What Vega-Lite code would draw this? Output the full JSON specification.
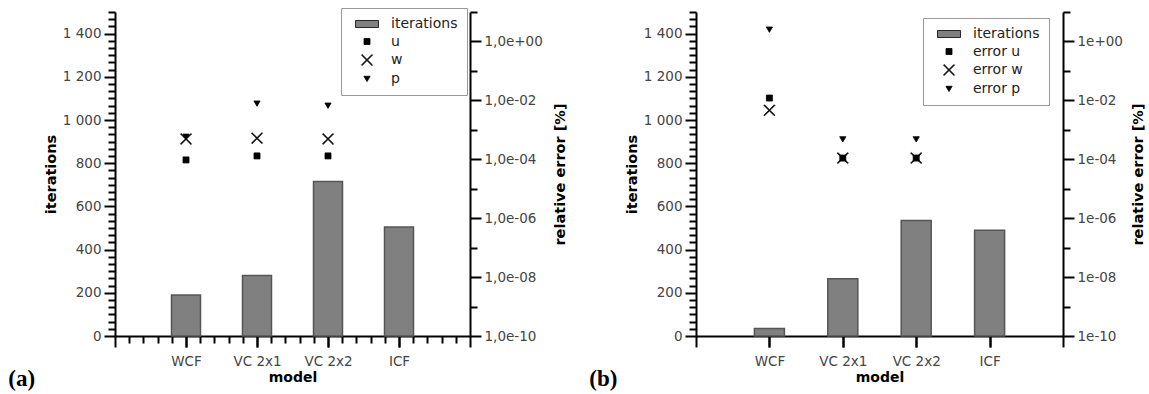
{
  "$schema": "https://vega.github.io/schema/vega-lite/v6.json",
  "background": "white",
  "padding": {"left": 8, "top": 5, "right": 0, "bottom": 0},
  "spacing": 22,
  "resolve": {"scale": {"color": "independent", "shape": "independent"}, "legend": {"color": "independent", "shape": "independent"}},
  "datasets": {
    "barsA": [
      {"model": "WCF", "iterations": 190},
      {"model": "VC 2x1", "iterations": 280},
      {"model": "VC 2x2", "iterations": 715},
      {"model": "ICF", "iterations": 505}
    ],
    "errA": [
      {"model": "WCF", "series": "u", "error": 0.000095},
      {"model": "WCF", "series": "w", "error": 0.00049},
      {"model": "WCF", "series": "p", "error": 0.0006},
      {"model": "VC 2x1", "series": "u", "error": 0.00013},
      {"model": "VC 2x1", "series": "w", "error": 0.00052},
      {"model": "VC 2x1", "series": "p", "error": 0.008},
      {"model": "VC 2x2", "series": "u", "error": 0.00013},
      {"model": "VC 2x2", "series": "w", "error": 0.00049},
      {"model": "VC 2x2", "series": "p", "error": 0.0068}
    ],
    "barsB": [
      {"model": "WCF", "iterations": 35},
      {"model": "VC 2x1", "iterations": 265},
      {"model": "VC 2x2", "iterations": 535},
      {"model": "ICF", "iterations": 490}
    ],
    "errB": [
      {"model": "WCF", "series": "error u", "error": 0.012},
      {"model": "WCF", "series": "error w", "error": 0.0046},
      {"model": "WCF", "series": "error p", "error": 2.6},
      {"model": "VC 2x1", "series": "error u", "error": 0.00011},
      {"model": "VC 2x1", "series": "error w", "error": 0.00011},
      {"model": "VC 2x1", "series": "error p", "error": 0.00049},
      {"model": "VC 2x2", "series": "error u", "error": 0.00011},
      {"model": "VC 2x2", "series": "error w", "error": 0.00011},
      {"model": "VC 2x2", "series": "error p", "error": 0.00049}
    ]
  },
  "config": {
    "view": {"stroke": null},
    "font": "DejaVu Sans",
    "axis": {"grid": false, "domainColor": "black", "domainWidth": 2, "tickColor": "black", "tickWidth": 2, "labelColor": "#444444", "labelFontSize": 13.5, "labelFont": "DejaVu Sans", "titleFont": "DejaVu Sans", "titleFontSize": 14.5, "titleFontWeight": "bold", "titleColor": "black", "labelOverlap": false},
    "legend": {"labelFont": "DejaVu Sans"}
  },
  "hconcat": [
    {
      "width": 355,
      "height": 324,
      "title": {"text": "(a)", "orient": "bottom", "anchor": "start", "frame": "bounds", "font": "Liberation Serif", "fontSize": 23, "fontWeight": "bold", "color": "black", "dx": -35, "offset": -17},
      "resolve": {"scale": {"x": "independent", "y": "independent"}, "axis": {"x": "independent", "y": "independent"}},
      "layer": [
        {
          "data": {"name": "barsA"},
          "mark": {"type": "bar", "size": 29, "fill": "#808080", "stroke": "#555555", "strokeWidth": 1.5},
          "encoding": {
            "x": {"field": "model", "type": "nominal", "sort": null, "scale": {"type": "point", "domain": ["WCF", "VC 2x1", "VC 2x2", "ICF"], "padding": 1}, "axis": {"orient": "bottom", "title": "model", "tickSize": 11, "domain": false, "labelAngle": 0, "labelPadding": 7, "titlePadding": 3, "titleFontSize": 14}},
            "y": {"field": "iterations", "type": "quantitative", "scale": {"domain": [0, 1500], "nice": false}, "axis": {"orient": "left", "title": "iterations", "values": [0, 33.3333, 66.6667, 100, 133.3333, 166.6667, 200, 233.3333, 266.6667, 300, 333.3333, 366.6667, 400, 433.3333, 466.6667, 500, 533.3333, 566.6667, 600, 633.3333, 666.6667, 700, 733.3333, 766.6667, 800, 833.3333, 866.6667, 900, 933.3333, 966.6667, 1000, 1033.3333, 1066.6667, 1100, 1133.3333, 1166.6667, 1200, 1233.3333, 1266.6667, 1300, 1333.3333, 1366.6667, 1400, 1433.3333, 1466.6667, 1500], "labelExpr": "abs(datum.value/200 - round(datum.value/200)) < 0.001 ? replace(format(datum.value, ','), ',', ' ') : ''", "tickSize": {"condition": {"test": "abs(datum.value/200 - round(datum.value/200)) < 0.001", "value": 11}, "value": 7}, "labelPadding": 3, "titlePadding": 4}}
          }
        },
        {
          "data": {"name": "errA"},
          "mark": {"type": "point", "filled": true, "size": 100, "opacity": 1, "stroke": "black", "strokeWidth": 0.8},
          "encoding": {
            "x": {"field": "model", "type": "nominal", "sort": null, "scale": {"type": "point", "domain": ["WCF", "VC 2x1", "VC 2x2", "ICF"], "padding": 1}, "axis": null},
            "y": {"field": "error", "type": "quantitative", "scale": {"type": "log", "domain": [1e-10, 10], "nice": false}, "axis": {"orient": "right", "title": "relative error [%]", "values": [1e-10, 1e-9, 1e-8, 1e-7, 1e-6, 1e-5, 1e-4, 1e-3, 1e-2, 1e-1, 1, 10], "labelExpr": "(round(log(datum.value)/LN10) % 2 == 0 && datum.value < 2) ? '1,0e' + (datum.value < 0.5 ? '-' : '+') + (abs(round(log(datum.value)/LN10)) < 10 ? '0' : '') + abs(round(log(datum.value)/LN10)) : ''", "tickSize": {"condition": {"test": "round(log(datum.value)/LN10) % 2 == 0", "value": 11}, "value": 7}, "labelPadding": 3, "titlePadding": 11, "titleAngle": 270, "titleBaseline": "top"}},
            "color": {"field": "series", "type": "nominal", "scale": {"domain": ["iterations", "u", "w", "p"], "range": ["#808080", "black", "black", "black"]}, "legend": {"title": null, "orient": "none", "legendX": 226, "legendY": -4, "fillColor": "white", "strokeColor": "#999999", "padding": 9, "symbolOffset": 10, "labelOffset": 17, "rowPadding": 3.5, "labelFontSize": 14, "labelColor": "#222222", "symbolSize": 100, "symbolStrokeColor": "black", "symbolStrokeWidth": 0.8, "symbolOpacity": 1}},
            "shape": {"field": "series", "type": "nominal", "scale": {"domain": ["iterations", "u", "w", "p"], "range": ["M-2.3,-0.7L2.3,-0.7L2.3,0.7L-2.3,0.7Z", "M-0.6,-0.6L0.6,-0.6L0.6,0.6L-0.6,0.6Z", "M-1.1,-0.98L-0.98,-1.1L0,-0.12L0.98,-1.1L1.1,-0.98L0.12,0L1.1,0.98L0.98,1.1L0,0.12L-0.98,1.1L-1.1,0.98L-0.12,0Z", "M-0.62,-0.45L0.62,-0.45L0,0.62Z"]}}
          }
        },
        {
          "data": {"values": [{}]},
          "mark": {"type": "point", "opacity": 0},
          "encoding": {
            "x": {"datum": 0, "type": "quantitative", "scale": {"domain": [0, 5], "nice": false, "zero": false}, "axis": {"orient": "bottom", "title": null, "labels": false, "domain": true, "values": [0, 0.2, 0.4, 0.6, 0.8, 1, 1.2, 1.4, 1.6, 1.8, 2, 2.2, 2.4, 2.6, 2.8, 3, 3.2, 3.4, 3.6, 3.8, 4, 4.2, 4.4, 4.6, 4.8, 5], "tickSize": {"condition": {"test": "abs(datum.value - round(datum.value)) < 0.01", "value": 11}, "value": 7}}}
          }
        }
      ]
    },
    {
      "width": 367,
      "height": 324,
      "title": {"text": "(b)", "orient": "bottom", "anchor": "start", "frame": "bounds", "font": "Liberation Serif", "fontSize": 23, "fontWeight": "bold", "color": "black", "dx": -35, "offset": -17},
      "resolve": {"scale": {"x": "independent", "y": "independent"}, "axis": {"x": "independent", "y": "independent"}},
      "layer": [
        {
          "data": {"name": "barsB"},
          "mark": {"type": "bar", "size": 30, "fill": "#808080", "stroke": "#555555", "strokeWidth": 1.5},
          "encoding": {
            "x": {"field": "model", "type": "nominal", "sort": null, "scale": {"type": "point", "domain": ["WCF", "VC 2x1", "VC 2x2", "ICF"], "padding": 1}, "axis": {"orient": "bottom", "title": "model", "tickSize": 11, "domain": false, "labelAngle": 0, "labelPadding": 7, "titlePadding": 3, "titleFontSize": 14}},
            "y": {"field": "iterations", "type": "quantitative", "scale": {"domain": [0, 1500], "nice": false}, "axis": {"orient": "left", "title": "iterations", "values": [0, 33.3333, 66.6667, 100, 133.3333, 166.6667, 200, 233.3333, 266.6667, 300, 333.3333, 366.6667, 400, 433.3333, 466.6667, 500, 533.3333, 566.6667, 600, 633.3333, 666.6667, 700, 733.3333, 766.6667, 800, 833.3333, 866.6667, 900, 933.3333, 966.6667, 1000, 1033.3333, 1066.6667, 1100, 1133.3333, 1166.6667, 1200, 1233.3333, 1266.6667, 1300, 1333.3333, 1366.6667, 1400, 1433.3333, 1466.6667, 1500], "labelExpr": "abs(datum.value/200 - round(datum.value/200)) < 0.001 ? replace(format(datum.value, ','), ',', ' ') : ''", "tickSize": {"condition": {"test": "abs(datum.value/200 - round(datum.value/200)) < 0.001", "value": 11}, "value": 7}, "labelPadding": 3, "titlePadding": 4}}
          }
        },
        {
          "data": {"name": "errB"},
          "mark": {"type": "point", "filled": true, "size": 100, "opacity": 1, "stroke": "black", "strokeWidth": 0.8},
          "encoding": {
            "x": {"field": "model", "type": "nominal", "sort": null, "scale": {"type": "point", "domain": ["WCF", "VC 2x1", "VC 2x2", "ICF"], "padding": 1}, "axis": null},
            "y": {"field": "error", "type": "quantitative", "scale": {"type": "log", "domain": [1e-10, 10], "nice": false}, "axis": {"orient": "right", "title": "relative error [%]", "values": [1e-10, 1e-9, 1e-8, 1e-7, 1e-6, 1e-5, 1e-4, 1e-3, 1e-2, 1e-1, 1, 10], "labelExpr": "(round(log(datum.value)/LN10) % 2 == 0 && datum.value < 2) ? '1e' + (datum.value < 0.5 ? '-' : '+') + (abs(round(log(datum.value)/LN10)) < 10 ? '0' : '') + abs(round(log(datum.value)/LN10)) : ''", "tickSize": {"condition": {"test": "round(log(datum.value)/LN10) % 2 == 0", "value": 11}, "value": 7}, "labelPadding": 3, "titlePadding": 9, "titleAngle": 270, "titleBaseline": "top"}},
            "color": {"field": "series", "type": "nominal", "scale": {"domain": ["iterations", "error u", "error w", "error p"], "range": ["#808080", "black", "black", "black"]}, "legend": {"title": null, "orient": "none", "legendX": 227, "legendY": 6, "fillColor": "white", "strokeColor": "#999999", "padding": 9, "symbolOffset": 10, "labelOffset": 17, "rowPadding": 3.5, "labelFontSize": 14, "labelColor": "#222222", "symbolSize": 100, "symbolStrokeColor": "black", "symbolStrokeWidth": 0.8, "symbolOpacity": 1}},
            "shape": {"field": "series", "type": "nominal", "scale": {"domain": ["iterations", "error u", "error w", "error p"], "range": ["M-2.3,-0.7L2.3,-0.7L2.3,0.7L-2.3,0.7Z", "M-0.6,-0.6L0.6,-0.6L0.6,0.6L-0.6,0.6Z", "M-1.1,-0.98L-0.98,-1.1L0,-0.12L0.98,-1.1L1.1,-0.98L0.12,0L1.1,0.98L0.98,1.1L0,0.12L-0.98,1.1L-1.1,0.98L-0.12,0Z", "M-0.62,-0.45L0.62,-0.45L0,0.62Z"]}}
          }
        },
        {
          "data": {"values": [{}]},
          "mark": {"type": "point", "opacity": 0},
          "encoding": {
            "x": {"datum": 0, "type": "quantitative", "scale": {"domain": [0, 5], "nice": false, "zero": false}, "axis": {"orient": "bottom", "title": null, "labels": false, "domain": true, "values": [0, 1, 2, 3, 4, 5], "tickSize": 11}}
          }
        }
      ]
    }
  ]
}
